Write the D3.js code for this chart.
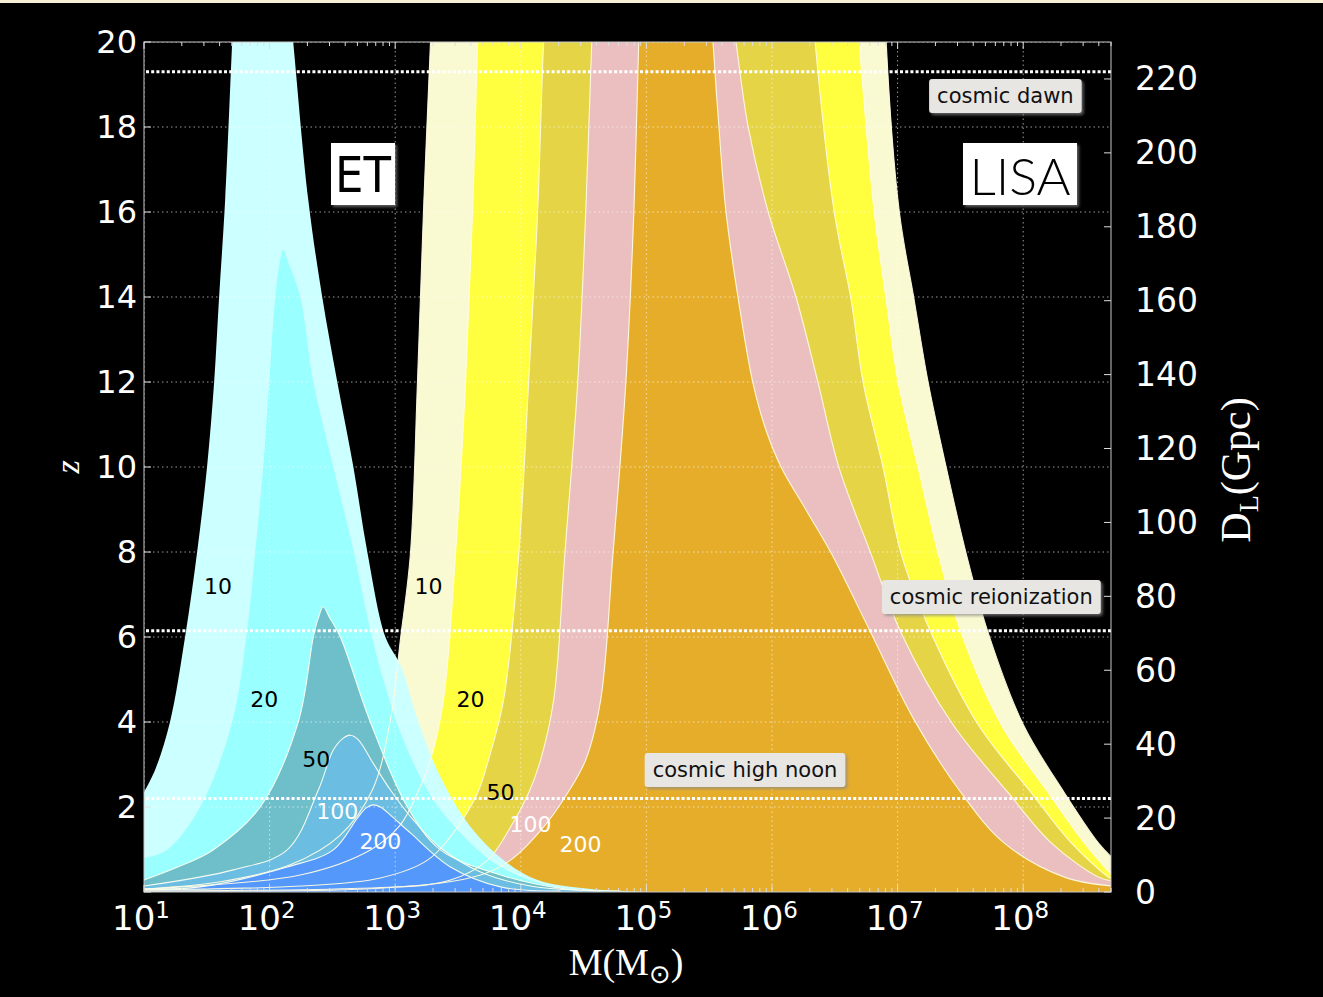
<!DOCTYPE html>
<html><head><meta charset="utf-8">
<script src="https://cdn.jsdelivr.net/npm/d3@7"></script>
<style>html,body{margin:0;padding:0;background:#000;}svg{display:block;}</style>
</head><body>
<svg id="chart" width="1323" height="997"></svg>
<script>
// ---------------- DATA ----------------
// Axis tick values
const massTicks = [1e1, 1e2, 1e3, 1e4, 1e5, 1e6, 1e7, 1e8];
const massTickExp = ["1", "2", "3", "4", "5", "6", "7", "8"];
const zTicks = [2, 4, 6, 8, 10, 12, 14, 16, 18, 20];
const dlTicks = [0, 20, 40, 60, 80, 100, 120, 140, 160, 180, 200, 220];

// SNR contour levels
const etLevels = [10, 20, 50, 100, 200];
const lisaLevels = [10, 20, 50, 100, 200];

// Contour boundaries, as [log10(M / Msun), z], traced from low mass to high mass
const et10 = [[1.000,2.35],[1.088,2.87],[1.207,4.00],[1.327,6.00],[1.423,8.00],[1.502,10.00],[1.558,11.98],[1.598,14.00],[1.646,16.28],[1.702,20.00],[1.718,20.99],
  [2.156,20.99],[2.188,20.00],[2.308,16.28],[2.419,14.00],[2.539,12.00],[2.667,10.00],[2.778,8.00],[2.922,6.00],[3.041,5.34],[3.185,4.00],[3.360,2.71],[3.600,1.53],[3.863,0.75],[4.134,0.28],[4.557,0.07],[5.035,0.00]];
const et20 = [[1.000,0.80],[1.183,0.99],[1.447,2.00],[1.702,4.00],[1.821,6.16],[1.885,8.00],[1.949,10.00],[1.997,12.00],[2.045,14.00],[2.077,14.75],[2.108,15.11],[2.148,14.82],
  [2.244,14.00],[2.348,12.00],[2.507,10.00],[2.670,8.00],[2.815,6.00],[2.930,4.75],[3.081,3.46],[3.305,2.16],[3.576,1.22],[3.839,0.59],[4.238,0.14],[4.716,0.02]];
const et50 = [[1.000,0.28],[1.287,0.61],[1.550,0.99],[1.925,2.00],[2.228,4.00],[2.348,6.00],[2.388,6.45],[2.427,6.71],[2.475,6.47],[2.563,6.00],[2.802,4.00],[3.097,2.00],[3.360,0.99],[3.839,0.40],[4.317,0.09],[4.796,0.02]];
const et100 = [[1.000,0.14],[1.710,0.52],[2.140,0.99],[2.388,2.40],[2.507,3.34],[2.587,3.62],[2.643,3.69],[2.707,3.58],[2.818,3.06],[2.962,2.40],[3.145,1.69],[3.360,1.04],[3.679,0.47],[4.078,0.14],[4.636,0.02]];
const et200 = [[1.000,0.07],[1.447,0.12],[2.140,0.59],[2.507,0.99],[2.699,1.74],[2.770,1.98],[2.826,2.05],[2.882,2.00],[2.962,1.81],[3.121,1.39],[3.440,0.59],[3.839,0.12],[4.317,0.02]];

const lisa10 = [[1.000,0.07],[1.606,0.24],[2.164,0.64],[2.563,1.34],[2.818,2.40],[2.962,4.05],[3.041,5.93],[3.121,7.95],[3.177,11.98],[3.225,16.00],[3.281,20.00],[3.297,20.99],
  [6.901,20.99],[6.909,20.00],[7.013,16.02],[7.132,13.93],[7.244,11.98],[7.388,9.98],[7.547,7.95],[7.722,6.09],[8.002,3.93],[8.329,2.33],[8.600,1.15],[8.711,0.80]];
const lisa20 = [[1.000,0.07],[2.244,0.40],[2.802,0.99],[3.041,1.58],[3.177,2.33],[3.281,3.11],[3.384,4.52],[3.480,7.95],[3.560,11.98],[3.616,16.00],[3.656,20.00],[3.671,20.99],
  [6.670,20.99],[6.694,20.00],[6.813,16.02],[6.909,13.93],[7.005,11.98],[7.164,9.98],[7.324,7.95],[7.507,6.09],[7.826,3.93],[8.201,2.33],[8.488,1.15],[8.711,0.38]];
const lisa50 = [[1.000,0.05],[2.244,0.14],[2.882,0.33],[3.257,0.75],[3.496,1.53],[3.656,2.33],[3.743,3.11],[3.863,4.52],[3.982,7.88],[4.062,11.98],[4.134,16.00],[4.182,20.00],[4.206,20.99],
  [6.319,20.99],[6.343,20.00],[6.494,16.02],[6.630,13.93],[6.726,11.98],[6.885,9.98],[7.029,7.95],[7.268,6.09],[7.643,3.93],[8.065,2.33],[8.384,1.15],[8.679,0.35],[8.711,0.31]];
const lisa100 = [[1.000,0.02],[2.882,0.09],[3.440,0.28],[3.735,0.75],[3.919,1.53],[4.062,2.33],[4.158,3.11],[4.262,4.52],[4.349,7.88],[4.453,11.98],[4.517,16.00],[4.565,20.00],[4.581,20.99],
  [5.665,20.99],[5.713,20.00],[5.809,18.02],[5.968,16.02],[6.191,14.00],[6.367,11.98],[6.534,9.98],[6.789,7.95],[7.029,6.09],[7.443,3.93],[7.882,2.33],[8.225,1.15],[8.600,0.35],[8.711,0.26]];
const lisa200 = [[1.000,0.02],[3.201,0.16],[3.679,0.40],[3.919,0.75],[4.182,1.53],[4.373,2.33],[4.517,3.11],[4.636,4.52],[4.732,7.88],[4.836,11.98],[4.900,16.00],[4.939,20.00],[4.955,20.99],
  [5.514,20.99],[5.530,20.00],[5.577,18.02],[5.633,16.02],[5.729,14.00],[5.848,11.98],[5.952,10.87],[6.072,10.00],[6.271,8.99],[6.470,7.98],[6.789,6.09],[7.132,4.05],[7.507,2.33],[7.850,1.15],[8.329,0.35],[8.711,0.14]];

// SNR label anchors [log10 M, z]
const etLabelPos = [[1.590,7.18],[1.957,4.52],[2.372,3.11],[2.539,1.90],[2.882,1.20]];
const lisaLabelPos = [[3.265,7.18],[3.600,4.52],[3.839,2.33],[4.078,1.60],[4.476,1.11]];

// Cosmic epochs (z) and their names
const epochZ = [19.3, 6.15, 2.2];
const epochNames = ["cosmic dawn", "cosmic reionization", "cosmic high noon"];
const epochLabelPos = [[7.858,18.73],[7.746,6.94],[5.785,2.87]];

// ---------------- STYLE ----------------
const etColors = ["#ccffff", "#99ffff", "#6fbfca", "#6bbde2", "#5598fb"];
const lisaColors = ["#fafad2", "#ffff40", "#e6d447", "#ebbfbf", "#e6ad2a"];
const etLabelColors = ["#000", "#000", "#000", "#fff", "#fff"];
const lisaLabelColors = ["#000", "#000", "#000", "#fff", "#fff"];

const W = 1323, H = 997;
const L = 144, R = 1111, T = 42, B = 892;

const svg = d3.select("#chart");
svg.append("rect").attr("width", W).attr("height", H).attr("fill", "#000");
svg.append("rect").attr("width", W).attr("height", 3).attr("fill", "#f8f0d4");

const defs = svg.append("defs");
defs.append("clipPath").attr("id", "plotclip").append("rect")
  .attr("x", L).attr("y", T).attr("width", R - L).attr("height", B - T);
const f = defs.append("filter").attr("id", "shadow").attr("x", "-10%").attr("y", "-20%").attr("width", "130%").attr("height", "150%");
f.append("feDropShadow").attr("dx", 2).attr("dy", 2).attr("stdDeviation", 1.5).attr("flood-color", "#888").attr("flood-opacity", 0.7);

const x = d3.scaleLog().domain([10, 5e8]).range([L, R]);
const y = d3.scaleLinear().domain([0, 20]).range([B, T]);
const yDL = d3.scaleLinear().domain([0, 230]).range([B, T]);

const px = d => x(Math.pow(10, d[0]));
const py = d => y(d[1]);
const line = d3.line().x(px).y(py).curve(d3.curveCatmullRom.alpha(0.5));
function areaPath(pts) {
  const first = pts[0], last = pts[pts.length - 1];
  return line(pts) + "L" + px(last) + "," + y(0) + "L" + px(first) + "," + y(0) + "Z";
}

const plot = svg.append("g").attr("clip-path", "url(#plotclip)");

const lisaSets = [lisa10, lisa20, lisa50, lisa100, lisa200];
const etSets = [et10, et20, et50, et100, et200];

plot.selectAll("path.lisa").data(lisaSets).join("path").attr("class", "lisa")
  .attr("d", areaPath).attr("fill", (d, i) => lisaColors[i]);
plot.selectAll("path.et").data(etSets).join("path").attr("class", "et")
  .attr("d", areaPath).attr("fill", (d, i) => etColors[i]);

// outlines
plot.selectAll("path.lisaline").data(lisaSets).join("path").attr("class", "lisaline")
  .attr("d", line).attr("fill", "none").attr("stroke", "#fffbe0").attr("stroke-width", 1.1).attr("stroke-opacity", 0.95);
plot.selectAll("path.etline").data(etSets.slice(2)).join("path").attr("class", "etline")
  .attr("d", line).attr("fill", "none").attr("stroke", "#fbfff0").attr("stroke-width", 1.1).attr("stroke-opacity", 0.95);

// grid
const grid = plot.append("g").attr("stroke", "#fff").attr("stroke-opacity", 0.6).attr("stroke-width", 1).attr("stroke-dasharray", "1.5,3");
massTicks.forEach(m => grid.append("line").attr("x1", x(m)).attr("x2", x(m)).attr("y1", T).attr("y2", B));
zTicks.forEach(z => grid.append("line").attr("x1", L).attr("x2", R).attr("y1", y(z)).attr("y2", y(z)));

// epoch lines
plot.selectAll("line.epoch").data(epochZ).join("line").attr("class", "epoch")
  .attr("x1", L + 2).attr("x2", R).attr("y1", d => y(d)).attr("y2", d => y(d))
  .attr("stroke", "#fff").attr("stroke-width", 3).attr("stroke-dasharray", "3,2.2");

// SNR labels
const snrFont = "'DejaVu Sans', sans-serif";
svg.selectAll("text.etlab").data(etLevels).join("text").attr("class", "etlab")
  .attr("x", (d, i) => px(etLabelPos[i])).attr("y", (d, i) => py(etLabelPos[i]))
  .attr("text-anchor", "middle").attr("dominant-baseline", "central")
  .attr("font-family", snrFont).attr("font-size", 22).attr("fill", (d, i) => etLabelColors[i]).text(d => d);
svg.selectAll("text.lisalab").data(lisaLevels).join("text").attr("class", "lisalab")
  .attr("x", (d, i) => px(lisaLabelPos[i])).attr("y", (d, i) => py(lisaLabelPos[i]))
  .attr("text-anchor", "middle").attr("dominant-baseline", "central")
  .attr("font-family", snrFont).attr("font-size", 22).attr("fill", (d, i) => lisaLabelColors[i]).text(d => d);

// epoch label boxes
epochNames.forEach((name, i) => {
  const cx = px(epochLabelPos[i]), cy = py(epochLabelPos[i]);
  const g = svg.append("g");
  const t = g.append("text").attr("x", cx).attr("y", cy).attr("text-anchor", "middle").attr("dominant-baseline", "central")
    .attr("font-family", "'DejaVu Sans', sans-serif").attr("font-size", 21).attr("fill", "#111").text(name);
  const bb = t.node().getBBox();
  g.insert("rect", "text").attr("x", bb.x - 8).attr("y", cy - 17).attr("width", bb.width + 16).attr("height", 34)
    .attr("rx", 3).attr("fill", "#e8e6e3").attr("filter", "url(#shadow)");
});

// detector boxes
function detBox(label, x0, y0, w, h, family, size, weight) {
  const g = svg.append("g");
  g.append("rect").attr("x", x0).attr("y", y0).attr("width", w).attr("height", h).attr("fill", "#fff").attr("filter", "url(#shadow)");
  g.append("text").attr("x", x0 + w / 2).attr("y", y0 + h / 2 + 1).attr("text-anchor", "middle").attr("dominant-baseline", "central")
    .attr("font-family", family).attr("font-size", size).attr("font-weight", weight).attr("fill", "#000").text(label);
}
detBox("ET", 331, 143, 64, 62, "'Liberation Sans Narrow', 'DejaVu Sans Condensed', sans-serif", 50, 400);
detBox("LISA", 963, 143, 114, 62, "Lato, 'Open Sans', sans-serif", 52, 300);

// frame
svg.append("rect").attr("x", L).attr("y", T).attr("width", R - L).attr("height", B - T)
  .attr("fill", "none").attr("stroke", "#c8c8c8").attr("stroke-width", 1);

// ticks
const tk = svg.append("g").attr("stroke", "#ddd").attr("stroke-width", 1);
massTicks.forEach(m => {
  tk.append("line").attr("x1", x(m)).attr("x2", x(m)).attr("y1", B).attr("y2", B - 7);
  tk.append("line").attr("x1", x(m)).attr("x2", x(m)).attr("y1", T).attr("y2", T + 7);
  for (let k = 2; k <= 9; k++) {
    const mm = m * k;
    if (mm > 5e8) break;
    tk.append("line").attr("x1", x(mm)).attr("x2", x(mm)).attr("y1", B).attr("y2", B - 4);
    tk.append("line").attr("x1", x(mm)).attr("x2", x(mm)).attr("y1", T).attr("y2", T + 4);
  }
});
[0].concat(zTicks).forEach(z => tk.append("line").attr("x1", L).attr("x2", L + 7).attr("y1", y(z)).attr("y2", y(z)));
dlTicks.forEach(v => tk.append("line").attr("x1", R).attr("x2", R - 7).attr("y1", yDL(v)).attr("y2", yDL(v)));

// tick labels
const tickFont = "'DejaVu Sans', sans-serif";
svg.selectAll("text.zt").data(zTicks).join("text").attr("class", "zt")
  .attr("x", L - 7).attr("y", d => y(d)).attr("text-anchor", "end").attr("dominant-baseline", "central")
  .attr("font-family", tickFont).attr("font-size", 32).attr("fill", "#fff").text(d => d);
svg.selectAll("text.dt").data(dlTicks).join("text").attr("class", "dt")
  .attr("x", R + 24).attr("y", d => yDL(d)).attr("text-anchor", "start").attr("dominant-baseline", "central")
  .attr("font-family", tickFont).attr("font-size", 33).attr("fill", "#fff").text(d => d);
const mt = svg.selectAll("text.mt").data(massTicks).join("text").attr("class", "mt")
  .attr("x", d => x(d) - 3).attr("y", 930).attr("text-anchor", "middle")
  .attr("font-family", tickFont).attr("font-size", 34).attr("fill", "#fff");
mt.append("tspan").text("10");
mt.append("tspan").attr("dy", -12).attr("font-size", 23).text((d, i) => massTickExp[i]);

// axis titles
const serif = "'Liberation Serif', 'DejaVu Serif', serif";
svg.append("text").attr("transform", "translate(79,467) rotate(-90)").attr("text-anchor", "middle")
  .attr("font-family", serif).attr("font-style", "italic").attr("font-size", 34).attr("fill", "#fff").text("z");
const mx = svg.append("text").attr("x", 626).attr("y", 975).attr("text-anchor", "middle")
  .attr("font-family", serif).attr("font-size", 38).attr("fill", "#fff");
mx.append("tspan").text("M(M");
mx.append("tspan").attr("dy", 8).attr("font-size", 26).attr("font-family", "'DejaVu Sans', sans-serif").text("\u2299");
mx.append("tspan").attr("dy", -8).text(")");
const dl = svg.append("text").attr("transform", "translate(1250,470) rotate(-90)").attr("text-anchor", "middle")
  .attr("font-family", serif).attr("font-size", 42).attr("fill", "#fff");
dl.append("tspan").text("D");
dl.append("tspan").attr("dy", 8).attr("font-size", 28).text("L");
dl.append("tspan").attr("dy", -8).text("(Gpc)");
</script>
</body></html>
